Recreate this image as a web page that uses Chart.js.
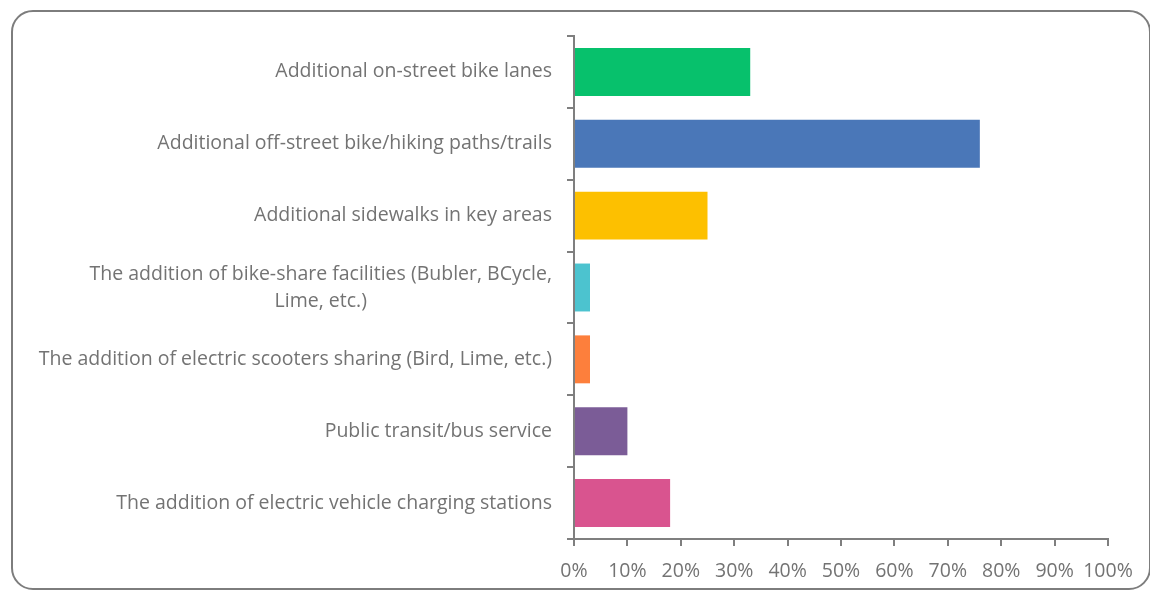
<!DOCTYPE html>
<html>
<head>
<meta charset="utf-8">
<script src="https://cdn.jsdelivr.net/npm/chart.js@4"></script>
<style>
  html, body { margin: 0; padding: 0; background: #fff; }
  #wrap { position: relative; width: 1150px; height: 591px; overflow: hidden; }
  #frame {
    position: absolute; left: 11px; top: 10px; width: 1136px; height: 576px;
    border: 2px solid #7d7d7d; border-radius: 22px;
  }
  canvas { position: absolute; left: 0; top: 0; }
</style>
</head>
<body>
<div id="wrap">
  <div id="frame"></div>
  <canvas id="chart" width="1150" height="591"></canvas>
</div>
<script>
const textColor = '#737373';
const axisColor = '#7f7f7f';
const fontSize = 19.5;
const labelFont = fontSize + 'px "Open Sans"';

// categories (wrapped lines kept as arrays)
const categories = [
  'Additional on-street bike lanes',
  'Additional off-street bike/hiking paths/trails',
  'Additional sidewalks in key areas',
  ['The addition of bike-share facilities (Bubler, BCycle,', 'Lime, etc.)'],
  'The addition of electric scooters sharing (Bird, Lime, etc.)',
  'Public transit/bus service',
  'The addition of electric vehicle charging stations'
];
const values = [33, 76, 25, 3, 3, 10, 18];
const barColors = ['#07C16C', '#4A77B8', '#FDC000', '#4CC3CF', '#FD7F3C', '#7B5C97', '#D9548F'];

// category labels: block right-aligned to the axis, wrapped lines centred within the block
const categoryLabels = {
  id: 'categoryLabels',
  afterDraw(chart) {
    const ctx = chart.ctx;
    const yScale = chart.scales.y;
    const right = chart.chartArea.left - 22;
    const lineHeight = 27;
    ctx.save();
    ctx.font = labelFont;
    ctx.fillStyle = textColor;
    ctx.textBaseline = 'middle';
    ctx.textAlign = 'center';
    categories.forEach((cat, i) => {
      const lines = Array.isArray(cat) ? cat : [cat];
      const widest = Math.max(...lines.map(l => ctx.measureText(l).width));
      const cx = right - widest / 2;
      const cy = yScale.getPixelForTick(i);
      const startY = cy - (lines.length - 1) * lineHeight / 2;
      lines.forEach((l, j) => ctx.fillText(l, cx, startY + j * lineHeight));
    });
    ctx.restore();
  }
};

new Chart(document.getElementById('chart'), {
  type: 'bar',
  data: {
    labels: categories,
    datasets: [{
      data: values,
      backgroundColor: barColors,
      borderWidth: 0,
      barPercentage: 0.667,
      categoryPercentage: 1
    }]
  },
  options: {
    indexAxis: 'y',
    responsive: false,
    animation: false,
    layout: {
      padding: { top: 36, right: 42, bottom: 0, left: 0 }
    },
    plugins: {
      legend: { display: false },
      tooltip: { enabled: false }
    },
    scales: {
      x: {
        min: 0,
        max: 100,
        ticks: {
          stepSize: 10,
          color: textColor,
          font: { family: '"Open Sans"', size: fontSize },
          padding: 14,
          maxRotation: 0,
          callback: v => v + '%'
        },
        grid: { drawOnChartArea: false, tickLength: 7, color: axisColor, lineWidth: 2 },
        border: { color: axisColor, width: 2 },
        afterFit: s => { s.height = 52; }
      },
      y: {
        ticks: { display: false },
        grid: { drawOnChartArea: false, tickLength: 7, color: axisColor, lineWidth: 2, offset: true },
        border: { color: axisColor, width: 2 },
        afterFit: s => { s.width = 574; }
      }
    }
  },
  plugins: [categoryLabels]
});
</script>
</body>
</html>
